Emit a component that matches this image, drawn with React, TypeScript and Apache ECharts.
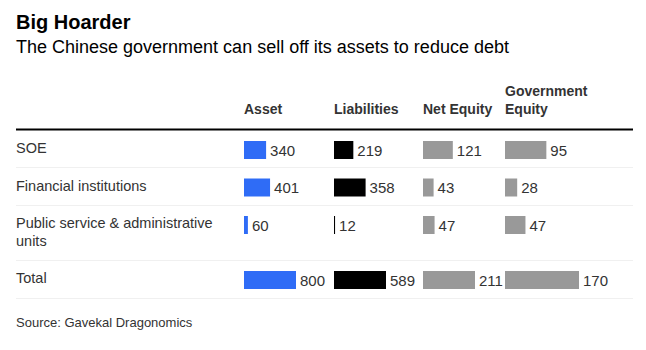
import React, { useEffect, useRef } from 'react';
import * as echarts from 'echarts';

// ---- data ----
const rowCategories = ['SOE', 'Financial institutions', 'Public service & administrative units'];
const totalCategory = ['Total'];
const columnNames = ['Asset', 'Liabilities', 'Net Equity', 'Government Equity'];
const asset = [340, 401, 60];
const liabilities = [219, 358, 12];
const netEquity = [121, 43, 47];
const govEquity = [95, 28, 47];
const totals = [800, 589, 211, 170];
const titleText = 'Big Hoarder';
const subtitleText = 'The Chinese government can sell off its assets to reduce debt';
const sourceText = 'Source: Gavekal Dragonomics';

// ---- layout / style ----
const FONT = '"Liberation Sans", Arial, Helvetica, sans-serif';
const colLeft = [244, 334, 423, 505];
const colBarMax = [52, 52, 52, 74];
const colColors = ['#2f6cf6', '#000000', '#999999', '#999999'];
const ROWS_TOP = 131.25;
const ROW_H = 37.5;
const TOTAL_TOP = 261;
const TOTAL_H = 38;
const LABEL_SHIFT = 10.5;
const separatorsY = [167.5, 205.5, 260.5, 298.5];

export default function App() {
  const ref = useRef<HTMLDivElement>(null);
  useEffect(() => {
    if (!ref.current) return;
    const chart = echarts.init(ref.current, undefined, { renderer: 'svg' });
    const columns = [asset, liabilities, netEquity, govEquity];

    const grids: any[] = [];
    const xAxes: any[] = [];
    const yAxes: any[] = [];
    const series: any[] = [];

    const labelAxisStyle = {
      align: 'left',
      margin: 0,
      verticalAlign: 'top',
      lineHeight: 17.5,
      fontSize: 14.5,
      color: '#333',
      fontFamily: FONT,
      width: 215,
      overflow: 'break',
    };
    // label grids
    [
      { top: ROWS_TOP - LABEL_SHIFT, height: ROW_H * rowCategories.length, data: rowCategories },
      { top: TOTAL_TOP - LABEL_SHIFT, height: TOTAL_H, data: totalCategory },
    ].forEach((g) => {
      const i = grids.length;
      grids.push({ left: 16, width: 10, top: g.top, height: g.height });
      xAxes.push({ type: 'value', gridIndex: i, show: false });
      yAxes.push({
        type: 'category',
        gridIndex: i,
        data: g.data,
        inverse: true,
        axisLine: { show: false },
        axisTick: { show: false },
        splitLine: { show: false },
        axisLabel: labelAxisStyle,
      });
    });

    columns.forEach((vals, c) => {
      const maxV = Math.max(...vals, totals[c]);
      [
        { top: ROWS_TOP, height: ROW_H * rowCategories.length, cats: rowCategories, data: vals },
        { top: TOTAL_TOP, height: TOTAL_H, cats: totalCategory, data: [totals[c]] },
      ].forEach((g) => {
        const i = grids.length;
        grids.push({ left: colLeft[c], width: colBarMax[c], top: g.top, height: g.height });
        xAxes.push({ type: 'value', gridIndex: i, min: 0, max: maxV, show: false });
        yAxes.push({ type: 'category', gridIndex: i, data: g.cats, inverse: true, show: false });
        series.push({
          type: 'bar',
          xAxisIndex: i,
          yAxisIndex: i,
          data: g.data,
          barWidth: 18,
          silent: true,
          itemStyle: { color: colColors[c] },
          label: {
            show: true,
            position: 'right',
            distance: 4,
            fontSize: 15,
            color: '#333',
            fontFamily: FONT,
          },
        });
      });
    });

    const graphic: any[] = [];
    columnNames.forEach((name, c) => {
      graphic.push({
        type: 'text',
        x: colLeft[c],
        y: 117.5,
        silent: true,
        style: {
          text: name,
          fontSize: 14,
          fontWeight: 'bold',
          fontFamily: FONT,
          fill: '#333',
          verticalAlign: 'bottom',
          align: 'left',
          lineHeight: 18,
          width: 100,
          overflow: 'break',
        },
      });
    });
    graphic.push({
      type: 'line',
      silent: true,
      shape: { x1: 16, y1: 129.5, x2: 633, y2: 129.5 },
      style: { stroke: '#000', lineWidth: 2 },
    });
    separatorsY.forEach((y) => {
      graphic.push({
        type: 'line',
        silent: true,
        shape: { x1: 16, y1: y, x2: 633, y2: y },
        style: { stroke: '#f0f0f0', lineWidth: 1 },
      });
    });
    graphic.push({
      type: 'text',
      x: 16,
      y: 21.5,
      silent: true,
      style: { text: titleText, fontSize: 20, fontWeight: 'bold', fontFamily: FONT, fill: '#000', verticalAlign: 'middle' },
    });
    graphic.push({
      type: 'text',
      x: 16,
      y: 47,
      silent: true,
      style: { text: subtitleText, fontSize: 18, fontFamily: FONT, fill: '#000', verticalAlign: 'middle' },
    });
    graphic.push({
      type: 'text',
      x: 16,
      y: 322,
      silent: true,
      style: { text: sourceText, fontSize: 13, fontFamily: FONT, fill: '#333', verticalAlign: 'middle' },
    });

    chart.setOption({
      animation: false,
      backgroundColor: '#ffffff',
      grid: grids,
      xAxis: xAxes,
      yAxis: yAxes,
      series,
      graphic,
    });
    return () => chart.dispose();
  }, []);
  return (
    <div
      ref={ref}
      style={{ position: 'fixed', left: 0, top: 0, width: 646, height: 350, background: '#fff' }}
    />
  );
}
